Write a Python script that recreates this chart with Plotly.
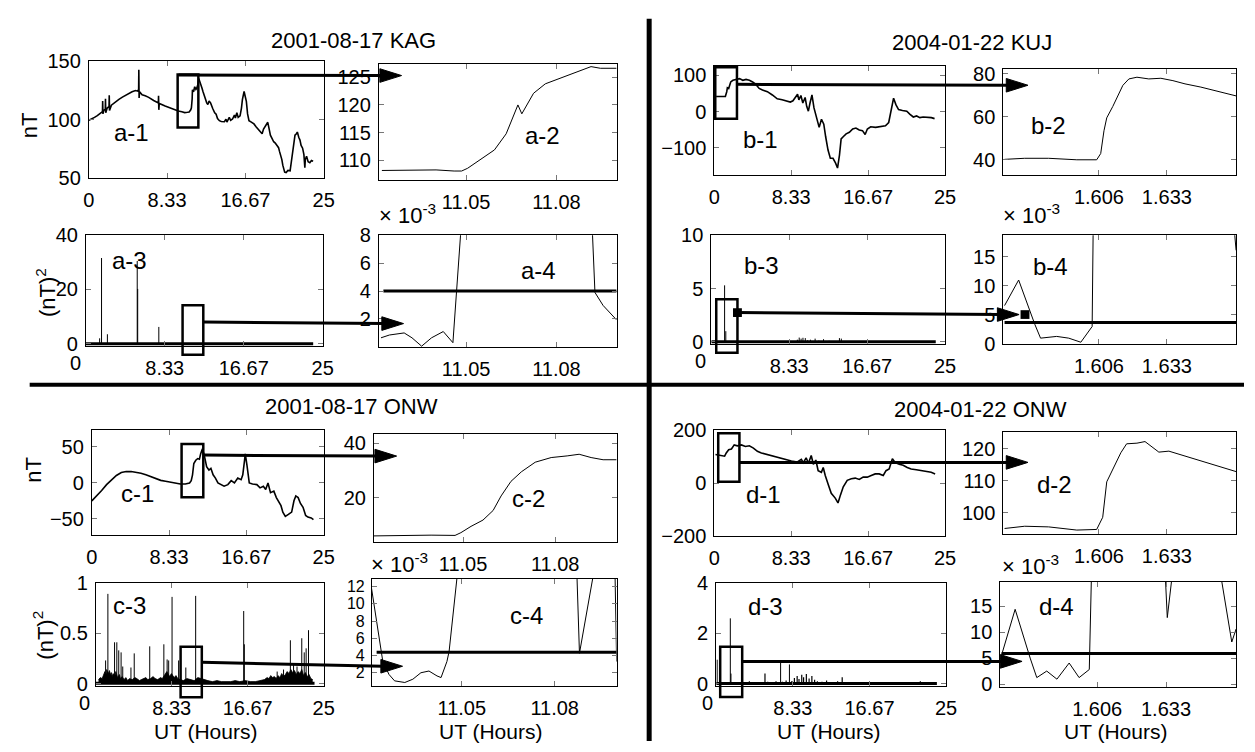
import plotly.graph_objects as go

W, H = 1255, 752
NUM_FONT = "Liberation Sans, Arial, sans-serif"
TXT_FONT = "Liberation Sans, Arial, sans-serif"

# ===================== DATA =====================
# ---- 2001-08-17 KAG : full day (UT hours, nT)
a1_t = [0.0, 0.3, 0.6, 0.9, 1.12, 1.3, 1.45, 1.47, 1.5, 1.6,
        1.75, 1.77, 1.8, 1.95, 2.15, 2.17, 2.2, 2.4, 2.87, 3.2,
        3.57, 3.9, 4.27, 4.6, 4.97, 5.2, 5.3, 5.32, 5.35, 5.4,
        5.67, 6.0, 6.37, 6.9, 7.4, 7.42, 7.45, 7.5, 8.12, 8.5,
        8.82, 9.2, 9.52, 9.9, 10.2, 10.5, 10.68, 10.85, 10.92, 11.0,
        11.03, 11.15, 11.27, 11.4, 11.48, 11.6, 11.7, 11.8, 11.9, 12.05,
        12.15, 12.3, 12.4, 12.55, 12.67, 12.8, 12.96, 13.1, 13.2, 13.4,
        13.55, 13.7, 13.9, 14.1, 14.43, 14.6, 14.7, 14.95, 15.1, 15.3,
        15.5, 15.6, 15.76, 15.9, 16.1, 16.25, 16.35, 16.53, 16.65, 16.77,
        16.9, 17.05, 17.3, 17.58, 17.8, 18.1, 18.3, 18.45, 18.6, 18.8,
        19.05, 19.2, 19.33, 19.5, 19.68, 19.85, 20.03, 20.2, 20.3, 20.45,
        20.55, 20.65, 20.73, 20.85, 21.0, 21.2, 21.43, 21.55, 21.7, 21.85,
        21.95, 22.1, 22.2, 22.35, 22.48, 22.6, 22.76, 22.9, 23.0, 23.05,
        23.18, 23.35, 23.53, 23.7, 23.88]
a1_v = [99.5, 100.5, 102, 103.5, 104.7, 106, 107, 116, 105, 108,
        109, 118, 106, 110, 111.5, 121, 108, 112.5, 115.8, 117.5,
        119.4, 121, 122.8, 124, 125, 124.5, 126, 142.8, 118.6, 124,
        121.4, 120.5, 119.2, 116.5, 114.4, 120.5, 108.5, 114, 111.7, 110.5,
        109.4, 108.3, 107.5, 106.8, 106.1, 106.4, 106.7, 108.5, 110.3, 118,
        125.6, 124, 128.3, 126, 126.9, 130, 135.3, 133, 131.1, 127,
        124.2, 120, 117.2, 114.5, 113.1, 116, 114.4, 111, 109.4, 106,
        104.7, 101, 99.2, 98.5, 98.3, 100.5, 98, 102, 99.5, 100.6,
        104, 101.5, 106, 102, 103.3, 110, 117.2, 124.2, 120, 115.8,
        105, 99.2, 98, 96.4, 94, 90.8, 89.5, 88, 92, 95,
        97.8, 92, 86.7, 84, 81.1, 80, 78.3, 76, 72.8, 69,
        65.8, 61, 57.5, 55, 54.7, 56.5, 56.1, 63, 72.8, 82,
        86.7, 88, 89.4, 85, 82.5, 78, 75.6, 70, 58.9, 66,
        68.6, 64, 63.1, 65, 64.4]
# ---- KAG zoom (nT)
a2_t = [11.022, 11.03, 11.04, 11.046, 11.0485, 11.0505, 11.053, 11.0594, 11.0633, 11.066,
        11.0672, 11.0685, 11.0724, 11.0763, 11.0838, 11.0915, 11.0946, 11.1]
a2_v = [108.2, 108.2, 108.3, 108.1, 108.1, 108.6, 109.5, 111.9, 114.8, 118.3,
        120.0, 118.4, 122.1, 123.8, 125.3, 126.9, 126.6, 126.6]
# ---- KAG (nT)^2 spikes
a3_spike_t = [1.45, 1.65, 2.27, 5.42, 5.47, 7.7]
a3_spike_v = [2.0, 31.6, 3.5, 30.5, 20.2, 6.2]
# ---- KAG zoom (x 10^-3 (nT)^2)
a4_t = [11.0217, 11.0245, 11.0294, 11.032, 11.0352, 11.0385, 11.0424, 11.0456, 11.0483, 11.065,
        11.08, 11.0919, 11.0928, 11.0955, 11.1]
a4_v = [0.65, 0.85, 1.0, 0.65, 0.05, 0.65, 1.1, 0.3, 8.5, 45,
        40, 8.5, 3.9, 2.97, 1.93]
a_threshold = 4.0

# ---- 2004-01-22 KUJ
b1_t = [0.2, 0.85, 1.2, 1.35, 1.42, 1.56, 1.78, 2.02, 2.38, 2.73,
        3.09, 3.44, 3.8, 4.15, 4.51, 4.86, 5.22, 5.75, 6.29, 6.82,
        7.35, 7.88, 8.24, 8.52, 8.77, 9.02, 9.16, 9.38, 9.59, 9.84,
        10.01, 10.19, 10.37, 10.58, 10.8, 11.08, 11.36, 11.61, 11.86, 12.07,
        12.32, 12.57, 12.86, 13.14, 13.35, 13.56, 13.74, 13.99, 14.28, 14.63,
        14.99, 15.34, 15.7, 16.05, 16.34, 16.58, 16.94, 17.47, 18.0, 18.54,
        18.89, 19.18, 19.42, 19.67, 19.96, 20.38, 20.85, 21.2, 21.56, 21.91,
        22.27, 22.62, 23.15, 23.51, 23.86]
b1_v = [41.7, 41.7, 41.7, 55, 66, 64, 82, 86.5, 89, 91,
        86.5, 89, 86.5, 82, 75, 64, 59.6, 55, 46, 35.4,
        32.7, 30, 26.5, 30, 39, 48, 32.7, 44.4, 23.8, 39,
        14.8, 1.3, 23.8, 46, 10.3, -21, -43.5, -21, -34.5, -70,
        -106, -128.7, -128.7, -142, -155.6, -120, -75, -68.6, -61.4, -57,
        -48, -45.3, -50.7, -52.5, -63.2, -48, -41.7, -43.5, -41.7, -39,
        -30, 5.8, 37.2, 19.3, 5.8, 3.1, 1.3, -7.6, -14.8, -12,
        -16.6, -14.8, -14.8, -16.6, -19.3]
b2_t = [1.5685, 1.5765, 1.586, 1.5972, 1.6051, 1.6067, 1.608, 1.6091, 1.6115, 1.6131,
        1.6155, 1.6179, 1.6211, 1.6258, 1.6306, 1.6354, 1.6402, 1.6465, 1.6529, 1.6576, 1.6605]
b2_v = [40.1, 40.6, 40.6, 39.9, 39.9, 42.8, 53.4, 59.4, 64.7, 68.5,
        74.5, 77.5, 78.3, 77.5, 77.8, 76.7, 75.2, 73.7, 71.7, 70.2, 69.6]
b3_spike_t = [1.42, 1.55, 9.2, 9.4, 9.6, 9.8, 10.05, 10.3, 10.6, 11.1, 11.5, 12.0, 12.6, 13.7, 13.9]
b3_spike_v = [5.3, 1.0, 0.2, 0.4, 0.3, 0.38, 0.35, 0.15, 0.2, 0.3, 0.12, 0.25, 0.1, 0.35, 0.3]
b4_t = [1.5685, 1.5741, 1.5805, 1.5828, 1.5892, 1.594, 1.5988, 1.6033, 1.6037, 1.62,
        1.64, 1.6598, 1.6605]
b4_v = [6.6, 11.0, 3.4, 1.0, 1.3, 1.0, 0.3, 3.0, 19.5, 40,
        40, 19.5, 16.1]
b_threshold = 3.7

# ---- 2001-08-17 ONW
c1_t = [0, 0.53, 1.06, 1.59, 2.12, 2.65, 3.18, 3.71, 4.24, 4.77,
        5.3, 5.83, 6.36, 6.9, 7.43, 7.95, 8.49, 9.02, 9.55, 10.08,
        10.54, 10.72, 10.86, 11.0, 11.21, 11.42, 11.6, 11.74, 11.93, 12.13,
        12.38, 12.63, 12.84, 13.08, 13.33, 13.6, 13.9, 14.26, 14.67, 15.03,
        15.38, 15.74, 16.1, 16.28, 16.45, 16.55, 16.73, 16.98, 17.33, 17.8,
        18.14, 18.5, 18.75, 19.0, 19.27, 19.63, 19.9, 20.16, 20.4, 20.6,
        20.87, 21.2, 21.55, 21.8, 22.0, 22.25, 22.5, 22.78, 23.06, 23.3,
        23.66, 23.9]
c1_v = [-24.8, -18, -10.4, -2.3, 4.5, 10.4, 14.4, 15.8, 15.8, 14.9,
        13.5, 11.3, 8.6, 5.9, 3.6, 2.3, 0.9, -0.5, -1.4, -1.4,
        0, 3.2, 11.3, 27, 31.5, 33.8, 32.9, 40.5, 47.3, 38.3,
        22.5, 18, 20.3, 11.3, 6.8, 0, -2.3, -4.5, -2.3, 3.2,
        0, 6.8, 4.5, 11.3, 29.3, 40.5, 24.8, 0, -1.4, -2.3,
        -6.8, -4.5, -9, 0, -13.5, -11.3, -20.3, -27, -31.5, -40.5,
        -46.4, -43.7, -40.5, -24.8, -18, -20.3, -28.4, -33.8, -45, -47.3,
        -48.6, -50.9]
c2_t = [11.0194, 11.0265, 11.033, 11.0396, 11.0474, 11.0493, 11.0526, 11.0565, 11.0598, 11.0624,
        11.0656, 11.069, 11.0735, 11.0787, 11.0839, 11.0878, 11.0917, 11.0956, 11.1]
c2_v = [6.1, 6.3, 6.4, 6.4, 6.3, 7.3, 9.6, 11.9, 15.4, 20.7,
        26, 29.5, 33, 34.7, 35.3, 35.9, 34.7, 33.9, 33.9]
c3_spike_t = [1.08, 1.33, 2.06, 2.31, 2.52, 2.78, 2.96, 3.86, 4.22, 5.92,
              7.47, 7.83, 8.0, 8.37, 9.09, 9.88, 10.96, 11.6, 16.23, 16.3,
              19.9, 20.6, 21.35, 21.7, 22.08, 22.6, 22.87, 23.08, 23.34]
c3_spike_v = [0.23, 0.89, 0.41, 0.41, 0.33, 0.31, 0.17, 0.16, 0.3, 0.37,
              0.39, 0.24, 0.23, 0.86, 0.23, 0.16, 0.87, 0.095, 0.72, 0.39,
              0.12, 0.14, 0.43, 0.2, 0.17, 0.45, 0.31, 0.35, 0.53]
c3_floor_t = [0.3, 0.5, 0.7, 0.9, 1.0, 1.1, 1.2, 1.4, 1.5, 1.6,
              1.7, 1.8, 1.9, 2.1, 2.2, 2.4, 2.6, 2.7, 2.9, 3.1,
              3.3, 3.5, 3.7, 4.0, 4.3, 4.5, 4.8, 5.0, 5.2, 5.5,
              5.7, 6.0, 6.3, 6.5, 6.8, 7.1, 7.3, 7.6, 7.8, 8.1,
              8.3, 8.6, 8.8, 9.0, 9.3, 9.6, 10.0, 10.4, 10.8, 11.2,
              11.5, 11.9, 12.3, 12.8, 13.3, 13.8, 14.3, 14.8, 15.3, 15.8,
              16.4, 17.0, 17.5, 18.0, 18.5, 18.8, 19.0, 19.2, 19.4, 19.6,
              19.8, 20.0, 20.2, 20.4, 20.6, 20.8, 21.0, 21.2, 21.4, 21.6,
              21.8, 22.0, 22.2, 22.4, 22.6, 22.8, 23.0, 23.2, 23.4, 23.6, 23.8]
c3_floor_v = [0.04, 0.06, 0.05, 0.09, 0.12, 0.08, 0.14, 0.1, 0.13, 0.09,
              0.11, 0.07, 0.1, 0.08, 0.12, 0.06, 0.09, 0.05, 0.07, 0.04,
              0.06, 0.03, 0.05, 0.04, 0.06, 0.05, 0.03, 0.04, 0.05, 0.06,
              0.04, 0.05, 0.07, 0.05, 0.04, 0.06, 0.05, 0.09, 0.12, 0.07,
              0.1, 0.06, 0.08, 0.05, 0.04, 0.03, 0.05, 0.04, 0.03, 0.06,
              0.05, 0.04, 0.03, 0.02, 0.03, 0.02, 0.02, 0.02, 0.03, 0.02,
              0.03, 0.02, 0.02, 0.03, 0.04, 0.06, 0.05, 0.08, 0.06, 0.07,
              0.05, 0.08, 0.06, 0.1, 0.07, 0.09, 0.12, 0.1, 0.14, 0.11,
              0.13, 0.09, 0.12, 0.1, 0.14, 0.08, 0.11, 0.07, 0.09, 0.05, 0.04]
c4_t = [11.0206, 11.023, 11.0245, 11.0265, 11.0283, 11.0316, 11.0342, 11.0368, 11.0394, 11.042,
        11.0433, 11.0452, 11.0459, 11.0485, 11.07, 11.0872, 11.088, 11.0924, 11.098, 11.0995, 11.1]
c4_v = [12.4, 7.1, 3.3, 1.8, 1.06, 0.87, 1.25, 2.0, 2.2, 1.63,
        1.44, 3.3, 4.46, 13.2, 30, 13.2, 4.26, 13.2, 30, 13.2, 3.3]
c_threshold = 4.38

# ---- 2004-01-22 ONW
d1_t = [0.13, 0.56, 1.12, 1.3, 1.56, 1.86, 2.16, 2.5, 2.94, 3.37,
        3.8, 4.24, 4.67, 5.1, 5.75, 6.4, 7.05, 7.7, 8.35, 9.0,
        9.43, 9.65, 9.95, 10.2, 10.5, 10.73, 11.0, 11.25, 11.6, 11.8,
        12.02, 12.37, 12.67, 13.1, 13.4, 13.67, 13.97, 14.4, 14.84, 15.27,
        15.7, 16.13, 16.57, 17.0, 17.43, 17.86, 18.3, 18.6, 18.94, 19.29,
        19.6, 20.03, 20.46, 20.9, 21.32, 21.89, 22.4, 22.92, 23.49, 23.92]
d1_v = [108.5, 105, 102.4, 114.6, 126.8, 129.3, 145, 141.5, 145, 139,
        141.5, 133, 120.7, 114.6, 108.5, 100, 96.3, 87.8, 84, 80.5,
        90.2, 78, 96.3, 75.6, 104.9, 72, 87.8, 47.6, 41.5, 59.8,
        29.3, -7.3, -37.8, -56, -74.4, -43.9, -13.4, 11, 17, 19.5,
        14.6, 23.2, 23.2, 29.3, 35.4, 35.4, 29.3, 47.6, 53.7, 92.7,
        78, 72, 68.3, 59.8, 53.7, 51.2, 47.6, 45.1, 41.5, 35.4]
d2_t = [1.5685, 1.5765, 1.586, 1.5972, 1.6051, 1.6075, 1.6091, 1.6115, 1.6147, 1.617,
        1.6211, 1.6243, 1.6274, 1.6298, 1.6338, 1.6402, 1.6465, 1.6529, 1.6576, 1.6605]
d2_v = [95.1, 95.8, 95.6, 94.6, 94.8, 98.6, 109.7, 113.7, 118.8, 121.6,
        121.8, 122.3, 120.3, 119.0, 119.3, 117.8, 116.3, 114.8, 113.7, 112.9]
d3_spike_t = [0.1, 1.53, 1.6, 7.0, 7.96]
d3_spike_v = [0.95, 2.59, 0.4, 0.85, 0.76]
d3_floor_t = [2.3, 2.8, 3.2, 3.6, 4.0, 4.5, 5.0, 5.3, 5.6, 6.0,
              6.5, 7.2, 7.6, 8.2, 8.5, 8.8, 9.0, 9.3, 9.5, 9.8,
              10.1, 10.4, 10.7, 11.0, 11.5, 12.0, 12.6, 13.2, 13.7, 14.1, 14.5, 22.2]
d3_floor_v = [0.05, 0.08, 0.04, 0.1, 0.05, 0.07, 0.06, 0.4, 0.08, 0.06,
              0.1, 0.08, 0.12, 0.1, 0.22, 0.3, 0.18, 0.35, 0.25, 0.38,
              0.2, 0.3, 0.15, 0.1, 0.08, 0.12, 0.06, 0.1, 0.25, 0.06, 0.04, 0.1]
d4_t = [1.5685, 1.5738, 1.5797, 1.5823, 1.5862, 1.5902, 1.595, 1.5989, 1.6029, 1.6037,
        1.62, 1.6328, 1.6335, 1.6352, 1.645, 1.6548, 1.6588, 1.6605]
d4_v = [5.6, 14.4, 5.0, 1.24, 2.5, 0.94, 4.05, 1.24, 2.8, 20.0,
        40, 20.0, 12.8, 20.0, 40, 20.0, 8.1, 10.6]
d_threshold = 5.9

# data extents
day_span = [0.0, 24.0]
ac_zoom_span = [11.0225, 11.1]
bd_zoom_span = [1.5685, 1.6605]

# tick labels
day_ticks = [0, 8.33, 16.67, 25]
day_text = ["0", "8.33", "16.67", "25"]
ac_ticks = [11.05, 11.08]
ac_text = ["11.05", "11.08"]
bd_ticks = [1.606, 1.633]
bd_text = ["1.606", "1.633"]

titles = ["2001-08-17 KAG", "2004-01-22 KUJ", "2001-08-17 ONW", "2004-01-22 ONW"]

# ===================== LAYOUT HELPERS =====================
def px(x):
    return x / W


def py(y):
    return 1 - y / H


AC_RANGE = [11.021, 11.1]
BD_RANGE = [1.568, 1.6605]

# name, (left, right, top, bottom) in px, x range, y range, x ticks, x text, y ticks, y tick font size
panels = [
    ("a1", (84, 322, 52, 172), [0, 25], [50, 150], day_ticks, day_text, [50, 100, 150], 20),
    ("a2", (378, 619, 55, 174), AC_RANGE, [106.5, 127.3], ac_ticks, ac_text, [110, 115, 120, 125], 20),
    ("a3", (81, 321, 231, 345), [0, 25], [-0.8, 40], day_ticks[1:], day_text[1:], [0, 20, 40], 20),
    ("a4", (378, 619, 231, 346), AC_RANGE, [0, 8], ac_ticks, ac_text, [2, 4, 6, 8], 20),
    ("b1", (718, 952, 57, 169), [0, 25], [-175, 125], day_ticks, day_text, [-100, 0, 100], 20),
    ("b2", (1011, 1247, 60, 169), BD_RANGE, [32.8, 82], bd_ticks, bd_text, [40, 60, 80], 20),
    ("b3", (715, 952, 231, 343), [0, 25], [-0.2, 10], day_ticks[1:], day_text[1:], [0, 5, 10], 20),
    ("b4", (1011, 1247, 231, 343), BD_RANGE, [0, 18.7], bd_ticks, bd_text, [0, 5, 10, 15], 20),
    ("c1", (87, 322, 432, 540), [0, 25], [-72.5, 73], day_ticks, day_text, [-50, 0, 50], 20),
    ("c2", (373, 619, 436, 547), AC_RANGE, [3.9, 43.2], ac_ticks, ac_text, [20, 40], 20),
    ("c3", (91, 322, 589, 695), [0, 25], [-0.02, 1], day_ticks[1:], day_text[1:], [0, 0.5, 1], 20),
    ("c4", (371, 619, 585, 695), AC_RANGE, [0.5, 12.9], ac_ticks, ac_text, [2, 4, 6, 8, 10, 12], 16),
    ("d1", (718, 952, 432, 541), [0, 25], [-200, 200], day_ticks, day_text, [-200, 0, 200], 20),
    ("d2", (1011, 1247, 434, 539), BD_RANGE, [93.3, 125.2], bd_ticks, bd_text, [100, 110, 120], 20),
    ("d3", (720, 953, 589, 695), [0, 25], [-0.08, 4], day_ticks[1:], day_text[1:], [0, 2, 4], 20),
    ("d4", (1008, 1247, 588, 696), BD_RANGE, [-0.5, 19.7], bd_ticks, bd_text, [0, 5, 10, 15], 20),
]
idx = {p[0]: i + 1 for i, p in enumerate(panels)}

fig = go.Figure()
layout = dict(width=W, height=H, margin=dict(l=0, r=0, t=0, b=0),
              paper_bgcolor="white", plot_bgcolor="white", showlegend=False)

for name, (l, r, t, b), xr, yr, xt, xtt, yt, yfs in panels:
    n = idx[name]
    sfx = "" if n == 1 else str(n)
    common = dict(showline=True, linecolor="black", linewidth=1, mirror="ticks",
                  ticks="inside", ticklen=5, tickcolor="#777", tickwidth=1,
                  showgrid=False, zeroline=False, fixedrange=True)
    layout["xaxis" + sfx] = dict(common, domain=[px(l), px(r)], range=xr, anchor="y" + sfx,
                                 tickmode="array", tickvals=xt, ticktext=xtt,
                                 ticklabelstandoff=4,
                                 tickfont=dict(family=NUM_FONT, size=20, color="black"))
    layout["yaxis" + sfx] = dict(common, domain=[py(b), py(t)], range=yr, anchor="x" + sfx,
                                 tickmode="array", tickvals=yt, ticklabelstandoff=3,
                                 tickfont=dict(family=NUM_FONT, size=yfs, color="black"))


def ax(name):
    n = idx[name]
    s = "" if n == 1 else str(n)
    return dict(xaxis="x" + s, yaxis="y" + s)


def add_line(name, x, y, width=1.0, **kw):
    fig.add_trace(go.Scatter(x=x, y=y, mode="lines", line=dict(color="black", width=width),
                             hoverinfo="skip", **ax(name), **kw))


def add_spikes(name, ts, vs, width=1.0):
    xs, ys = [], []
    for tt, vv in zip(ts, vs):
        xs += [tt, tt, None]
        ys += [0, vv, None]
    add_line(name, xs, ys, width=width)


# day-long traces
add_line("a1", a1_t, a1_v, 1.6)
add_line("b1", b1_t, b1_v, 1.6)
add_line("c1", c1_t, c1_v, 1.6)
add_line("d1", d1_t, d1_v, 1.6)
# zoomed traces
add_line("a2", a2_t, a2_v, 1.0)
add_line("b2", b2_t, b2_v, 1.0)
add_line("c2", c2_t, c2_v, 1.0)
add_line("d2", d2_t, d2_v, 1.0)
# (nT)^2 day-long
add_spikes("a3", a3_spike_t, a3_spike_v)
add_spikes("b3", b3_spike_t, b3_spike_v)
add_line("c3", c3_floor_t, c3_floor_v, 0.8, fill="tozeroy", fillcolor="black")
add_spikes("c3", c3_spike_t, c3_spike_v)
add_spikes("d3", d3_floor_t, d3_floor_v, 1.2)
add_spikes("d3", d3_spike_t, d3_spike_v)
for name, thr in (("a3", a_threshold), ("b3", b_threshold), ("c3", c_threshold), ("d3", d_threshold)):
    add_line(name, day_span, [thr * 1e-3, thr * 1e-3], 3.0)
# (nT)^2 zoom
add_line("a4", a4_t, a4_v, 1.0)
add_line("b4", b4_t, b4_v, 1.0)
add_line("c4", c4_t, c4_v, 1.0)
add_line("d4", d4_t, d4_v, 1.0)
add_line("a4", ac_zoom_span, [a_threshold, a_threshold], 3.0)
add_line("c4", ac_zoom_span, [c_threshold, c_threshold], 3.0)
add_line("b4", bd_zoom_span, [b_threshold, b_threshold], 3.0)
add_line("d4", bd_zoom_span, [d_threshold, d_threshold], 3.0)

# ===================== DECORATION =====================
shapes = []
# quadrant dividers
shapes.append(dict(type="line", xref="paper", yref="paper", x0=px(652), x1=px(652),
                   y0=py(8), y1=py(752), line=dict(color="black", width=5)))
shapes.append(dict(type="line", xref="paper", yref="paper", x0=px(24), x1=px(1255),
                   y0=py(385), y1=py(385), line=dict(color="black", width=4)))
# zoom rectangles
rects = [(174, 65.5, 195, 120), (179, 303, 200, 354), (719, 58, 741, 111), (720, 297, 741.5, 352),
         (178, 446, 200, 501), (177, 655, 198.5, 707), (722, 435, 743.5, 485), (724, 655, 746.3, 706.7)]
for x0, y0, x1, y1 in rects:
    shapes.append(dict(type="rect", xref="paper", yref="paper", x0=px(x0), x1=px(x1),
                       y0=py(y1), y1=py(y0), line=dict(color="black", width=2.5)))
# arrows
arrows = [((175, 66), (401, 66.5)), ((200, 320.5), (403, 322)), ((741, 75.5), (1036, 76.5)),
          ((741.5, 310.7), (1027, 312.7)), ((200, 457.5), (396, 458.5)), ((198.5, 671), (402, 675)),
          ((743.5, 465), (1036, 465)), ((746.3, 670), (1030, 670))]
HL, HW = 22, 7
for (x0, y0), (x1, y1) in arrows:
    shapes.append(dict(type="line", xref="paper", yref="paper", x0=px(x0), y0=py(y0),
                       x1=px(x1 - HL + 2), y1=py(y1), line=dict(color="black", width=3)))
    path = "M {} {} L {} {} L {} {} Z".format(px(x1), py(y1), px(x1 - HL), py(y1 - HW),
                                              px(x1 - HL), py(y1 + HW))
    shapes.append(dict(type="path", xref="paper", yref="paper", path=path,
                       fillcolor="black", line=dict(color="black", width=1)))
# square markers on the b-3 arrow
for cx, cy in ((741.5, 310.7), (1033, 312.7)):
    shapes.append(dict(type="rect", xref="paper", yref="paper", x0=px(cx - 4.5), x1=px(cx + 4.5),
                       y0=py(cy + 4.5), y1=py(cy - 4.5), fillcolor="black", line=dict(width=0)))
layout["shapes"] = shapes

ann = []


def text(s, x, y, size=22, xanchor="center", yanchor="middle", angle=0, family=TXT_FONT):
    ann.append(dict(text=s, x=px(x), y=py(y), xref="paper", yref="paper", showarrow=False,
                    xanchor=xanchor, yanchor=yanchor, textangle=angle,
                    font=dict(family=family, size=size, color="black")))


for s, (x, y) in zip(titles, [(352.7, 30), (979.3, 32), (350, 407), (987.4, 411)]):
    text(s, x, y, size=22)

labels = {"a-1": (127, 125), "a-2": (544, 128), "a-3": (125, 257), "a-4": (540, 267),
          "b-1": (765, 132), "b-2": (1057, 118), "b-3": (766, 262), "b-4": (1059, 263),
          "c-1": (133, 497), "c-2": (530, 502), "c-3": (125, 612), "c-4": (528, 623),
          "d-1": (768, 498), "d-2": (1063, 488), "d-3": (770, 613), "d-4": (1065, 613)}
for s, (x, y) in labels.items():
    text(s, x, y, size=24)

text("nT", 24, 118, angle=-90)
text("(nT)<sup>2</sup>", 40, 290, angle=-90)
text("nT", 28, 473, angle=-90)
text("(nT)<sup>2</sup>", 38, 643, angle=-90)
for x in (202, 491, 834, 1125):
    text("UT (Hours)", x, 742, size=21)
for x, y in ((375.6, 226), (1008.7, 226), (368, 585), (1008, 587)):
    text("\u00d7 10<sup>-3</sup>", x, y, xanchor="left", yanchor="bottom")
# x-axis "0" labels of the (nT)^2 day panels sit just under the y "0" label
for x, y in ((70, 363), (704, 361), (80, 713), (711, 713)):
    text("0", x, y, size=20, family=NUM_FONT)

layout["annotations"] = ann
fig.update_layout(**layout)
fig.write_html("out.html", config={"displayModeBar": False},
               post_script="document.body.style.margin='0';document.body.style.overflow='hidden';")
